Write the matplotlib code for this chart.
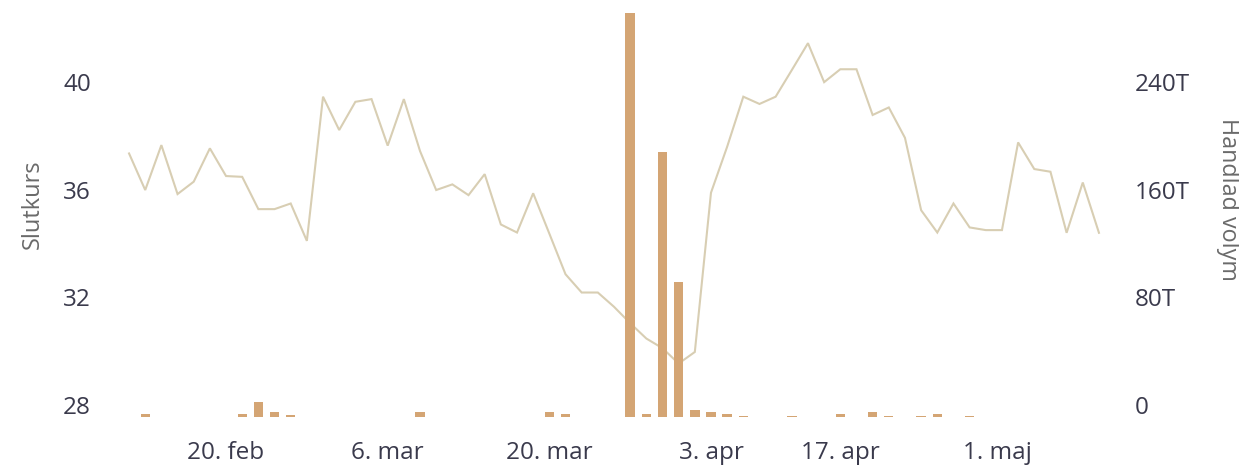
import numpy as np
import matplotlib
matplotlib.use("Agg")
import matplotlib.pyplot as plt
from matplotlib.ticker import FixedLocator, FuncFormatter
from matplotlib.transforms import ScaledTranslation
import datetime as dt

# ---------------- data ----------------
trading_days = [
    "2023-02-10", "2023-02-13", "2023-02-14", "2023-02-15", "2023-02-16", "2023-02-17",
    "2023-02-20", "2023-02-21", "2023-02-22", "2023-02-23", "2023-02-24",
    "2023-02-27", "2023-02-28", "2023-03-01", "2023-03-02", "2023-03-03",
    "2023-03-06", "2023-03-07", "2023-03-08", "2023-03-09", "2023-03-10",
    "2023-03-13", "2023-03-14", "2023-03-15", "2023-03-16", "2023-03-17",
    "2023-03-20", "2023-03-21", "2023-03-22", "2023-03-23", "2023-03-24",
    "2023-03-27", "2023-03-28", "2023-03-29", "2023-03-30", "2023-03-31",
    "2023-04-03", "2023-04-04", "2023-04-05", "2023-04-06",
    "2023-04-11", "2023-04-12", "2023-04-13", "2023-04-14",
    "2023-04-17", "2023-04-18", "2023-04-19", "2023-04-20", "2023-04-21",
    "2023-04-24", "2023-04-25", "2023-04-26", "2023-04-27", "2023-04-28",
    "2023-05-02", "2023-05-03", "2023-05-04", "2023-05-05",
    "2023-05-08", "2023-05-09", "2023-05-10",
]

close_price = [
    37.79, 36.43, 38.10, 36.28, 36.74, 37.98, 36.95, 36.92, 35.72, 35.72,
    35.93, 34.54, 39.90, 38.66, 39.71, 39.81, 38.08, 39.81, 37.88, 36.43,
    36.64, 36.24, 37.02, 35.15, 34.85, 36.31, 34.81, 33.30, 32.62, 32.62,
    32.09, 31.48, 30.91, 30.55, 29.98, 30.41, 36.33, 38.04, 39.90, 39.63,
    39.90, 40.89, 41.89, 40.44, 40.92, 40.92, 39.22, 39.50, 38.37, 35.68,
    34.85, 35.93, 35.04, 34.94, 34.94, 38.20, 37.21, 37.11, 34.84, 36.71,
    34.84,
]

# traded volume, thousands of shares
volume_k = [
    0, 2.1, 0, 0, 0, 0, 0, 2.1, 10.8, 3.8,
    1.1, 0, 0, 0, 0, 0, 0, 0, 3.8, 0,
    0, 0, 0, 0, 0, 0, 3.8, 2.1, 0, 0,
    0, 300, 2.1, 197, 100, 5.1, 3.6, 2.3, 0.8, 0,
    0, 0.8, 0, 0, 2.3, 0, 3.8, 0.8, 0, 0.8,
    2.3, 0, 0.8, 0, 0, 0, 0, 0, 0, 0,
    0,
]

tick_dates = ["2023-02-20", "2023-03-06", "2023-03-20", "2023-04-03", "2023-04-17", "2023-05-01"]
tick_labels = ["20. feb", "6. mar", "20. mar", "3. apr", "17. apr", "1. maj"]

price_ticks = [28, 32, 36, 40]
volume_ticks = [0, 80, 160, 240]

# ---------------- style ----------------
LINE_COLOR = "#d8ceb3"
BAR_COLOR = "#d4a574"
TICK_COLOR = "#3a3a4c"
TITLE_COLOR = "#6a6a6a"
plt.rcParams["font.family"] = ["Open Sans", "DejaVu Sans"]

W, H, DPI = 1239, 467, 100
fig = plt.figure(figsize=(W / DPI, H / DPI), dpi=DPI)

# plot area in pixels (from top-left)
left_px, right_px, top_px, bottom_px = 120, 1108, 10, 416.8
ax1 = fig.add_axes([left_px / W, (H - bottom_px) / H,
                    (right_px - left_px) / W, (bottom_px - top_px) / H])
ax2 = ax1.twinx()

# ordinal x axis (trading days only)
day_ord = np.array([dt.date.fromisoformat(d).toordinal() for d in trading_days])
x = np.arange(len(trading_days))
tick_pos = np.interp([dt.date.fromisoformat(d).toordinal() for d in tick_dates], day_ord, x)

ax1.plot(x, close_price, color=LINE_COLOR, lw=1.5, solid_joinstyle="miter", zorder=2)
ax2.bar(x, volume_k, width=0.58, color=BAR_COLOR, zorder=3)

ax1.set_xlim(-0.56, len(x) - 1 + 0.56)
ax1.set_ylim(28, 28 + (bottom_px - top_px) / 26.9)
ax2.set_ylim(0, (bottom_px - top_px) / 1.345)

for a in (ax1, ax2):
    for s in a.spines.values():
        s.set_visible(False)
    a.tick_params(length=0)
    a.set_facecolor("none")

ax1.xaxis.set_major_locator(FixedLocator(tick_pos))
ax1.set_xticklabels(tick_labels)
ax1.tick_params(axis="x", pad=17.5, labelsize=17.5, labelcolor=TICK_COLOR)

ax1.yaxis.set_major_locator(FixedLocator(price_ticks))
ax1.yaxis.set_major_formatter(FuncFormatter(lambda v, p: f"{v:.0f}"))
ax1.tick_params(axis="y", pad=21, labelsize=17.5, labelcolor=TICK_COLOR)

ax2.yaxis.set_major_locator(FixedLocator(volume_ticks))
ax2.yaxis.set_major_formatter(FuncFormatter(lambda v, p: "0" if v == 0 else f"{v:.0f}T"))
ax2.tick_params(axis="y", pad=19.5, labelsize=17.5, labelcolor=TICK_COLOR)

# labels sit just above their tick (baseline 2 pt above)
shift = ScaledTranslation(0, 2.0 / 72, fig.dpi_scale_trans)
for lab in ax1.get_yticklabels():
    lab.set_va("baseline")
    lab.set_transform(lab.get_transform() + shift)
for lab in ax2.get_yticklabels():
    lab.set_va("baseline")
    lab.set_transform(lab.get_transform() + shift)

ax1.set_ylabel("Slutkurs", fontsize=17, color=TITLE_COLOR, va="center", ha="center")
ax1.yaxis.set_label_coords((32.5 - left_px) / (right_px - left_px),
                           (bottom_px - 204) / (bottom_px - top_px))
ax2.set_ylabel("Handlad volym", fontsize=16.8, color=TITLE_COLOR, rotation=270,
               va="center", ha="center")
ax2.yaxis.set_label_coords((1227.5 - left_px) / (right_px - left_px),
                           (bottom_px - 199) / (bottom_px - top_px))

fig.savefig("out.png", dpi=DPI)
